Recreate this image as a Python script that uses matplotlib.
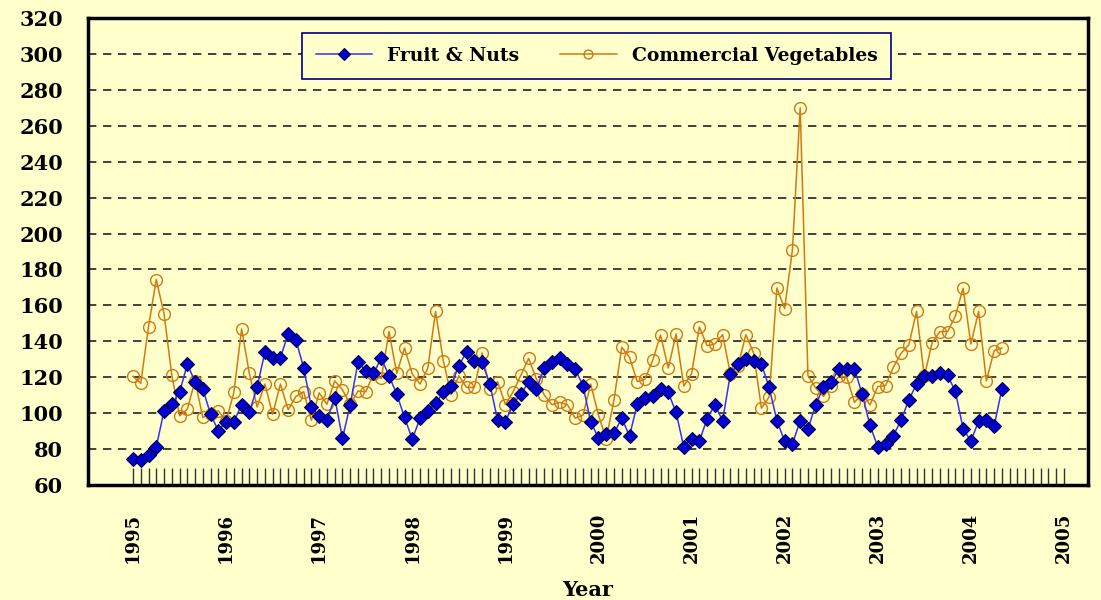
import matplotlib
matplotlib.use("Agg")
import matplotlib.pyplot as plt
import numpy as np

years = list(range(1995, 2006))
fruit_nuts = [74.3, 74, 76.6, 81.2, 101.3, 105, 111.5, 127.3, 117.5, 113.4, 99.4, 90.1,
              95.2, 95.3, 104.7, 100.4, 114.5, 133.9, 130.5, 130.9, 144.1, 140.7, 125.3, 103.3,
              98.5, 96.1, 108.7, 85.9, 104.7, 128.3, 123.6, 122.1, 130.7, 120.8, 110.6, 97.6,
              85.5, 97.2, 101.3, 105.4, 111.5, 115.3, 126.4, 134.2, 129.2, 128.3, 116.2, 96.1,
              95.3, 105, 110.6, 117.5, 113.4, 125.1, 128.3, 130.5, 127.3, 124.6, 115.3, 95.3,
              86, 88.3, 88.8, 97.2, 87.3, 105, 108.4, 109.3, 113.4, 111.5, 100.4, 81.1,
              85.8, 84.3, 96.9, 104.7, 95.8, 121.8, 127.4, 130.1, 128.8, 127.4, 114.4, 95.8,
              84.3, 82.8, 95.8, 91.1, 104.7, 114.4, 117.1, 124.6, 124.6, 124.6, 110.5, 93.2,
              81.3, 82.7, 87.3, 96.1, 107.3, 116.2, 120.5, 120.8, 122.1, 121.2, 112.1, 91.4,
              84.4, 95.5, 96.1, 92.9, 113.4]
commercial_veg = [120.5, 116.6, 148.2, 174.4, 155.3, 121.2, 98.5, 102.2, 118, 97.6, 99.4, 101.3,
                  95.5, 111.5, 146.9, 122.1, 103.5, 116.2, 99.4, 116.2, 101.9, 109.3, 111.9, 96,
                  111.3, 105, 118, 113, 105, 112.3, 111.9, 121.8, 119.3, 145.4, 122.1, 136.3,
                  121.8, 116.2, 125.1, 156.6, 129.2, 110.2, 120.8, 114.3, 114.3, 133.5, 113.4, 117.5,
                  104.8, 111.9, 121.2, 130.5, 119, 110.2, 104.7, 106, 104.7, 97.2, 98.9, 116.2,
                  98.9, 85.5, 107.4, 136.7, 131.1, 117.5, 119, 129.6, 143.5, 125.1, 144.1, 115.1,
                  122, 148, 137.6, 138.5, 143.7, 122, 126.4, 143.7, 133.5, 102.8, 109, 169.7,
                  158.2, 191, 270, 120.9, 114, 109.3, 115.3, 120.5, 120.1, 106, 110.9, 104.6,
                  114.8, 115.3, 125.5, 133.3, 138, 156.6, 120.5, 139.1, 145.4, 145.4, 154, 169.6,
                  138.5, 156.6, 118, 134.8, 136.3]

bg = "#FFFFCC"
fig = plt.figure(figsize=(11.01, 6.0), dpi=100, facecolor=bg)
ax = fig.add_axes([88/1101, 1-485/600, (1088-88)/1101, (485-18)/600], facecolor=bg)

x = np.arange(len(fruit_nuts))
ax.plot(x, fruit_nuts, color="#3030FF", lw=1.1, marker="D", markersize=7.5,
        markerfacecolor="#0000D0", markeredgecolor="#00004D", markeredgewidth=0.8,
        label="Fruit & Nuts", zorder=3)
ax.plot(np.arange(len(commercial_veg)), commercial_veg, color="#D07A10", lw=1.1,
        marker="o", markersize=8.5, markerfacecolor="none", markeredgecolor="#D07A10",
        markeredgewidth=1.0, label="Commercial Vegetables", zorder=2)

ax.set_ylim(60, 320)
ax.set_xlim(-5.8, 123.1)
ax.set_yticks(range(60, 321, 20))
ax.set_yticks([], minor=True)
for v in range(80, 320, 20):
    ax.axhline(v, color="#222222", lw=1.2, ls=(0, (5, 4)), zorder=1)

ax.set_xticks([12*i for i in range(len(years))])
ax.set_xticklabels([str(y) for y in years], rotation=90)
ax.set_xticks(range(0, 121), minor=True)
ax.tick_params(axis="x", which="major", direction="in", length=12, width=1,
               color="#333333", pad=20)
ax.tick_params(axis="x", which="minor", direction="in", length=12, width=1, color="#333333")
ax.tick_params(axis="y", which="major", length=0, pad=18)

for lbl in ax.get_xticklabels():
    lbl.set_fontfamily("DejaVu Serif")
    lbl.set_fontweight("bold")
    lbl.set_fontsize(13)
for lbl in ax.get_yticklabels():
    lbl.set_fontfamily("DejaVu Serif")
    lbl.set_fontweight("bold")
    lbl.set_fontsize(15)

for s in ax.spines.values():
    s.set_linewidth(2.5)
    s.set_color("black")

ax.set_xlabel("Year", fontfamily="DejaVu Serif", fontweight="bold", fontsize=15, labelpad=12)

leg = ax.legend(loc="upper center", bbox_to_anchor=(0.5085, 0.968), ncol=2,
                prop={"family": "DejaVu Serif", "weight": "bold", "size": 13.5},
                frameon=True, fancybox=False, facecolor=bg, edgecolor="#000080",
                borderpad=0.75, borderaxespad=0, handlelength=3.0, handletextpad=0.8,
                columnspacing=2.2, markerscale=0.75)
leg.get_frame().set_linewidth(1.2)
leg.get_frame().set_alpha(1)

fig.savefig("out.png", dpi=100, facecolor=bg)
